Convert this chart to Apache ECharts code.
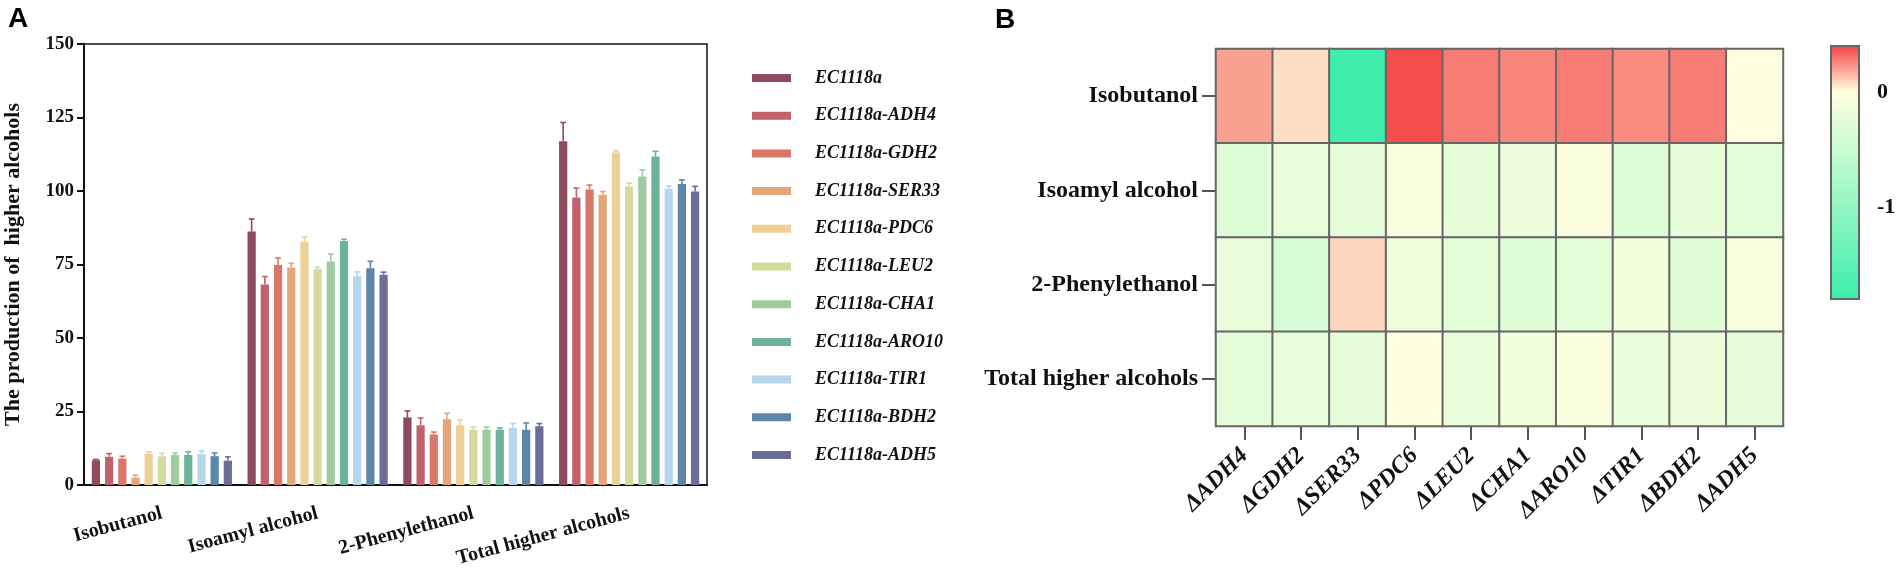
<!DOCTYPE html>
<html>
<head>
<meta charset="utf-8">
<script src="https://cdn.jsdelivr.net/npm/echarts@6/dist/echarts.min.js"></script>
<style>
html,body{margin:0;padding:0;background:#fff;}
#chart{width:1902px;height:572px;}
</style>
</head>
<body>
<div id="chart"></div>
<script>
// ---------- Panel A data ----------
const categories = ['Isobutanol', 'Isoamyl alcohol', '2-Phenylethanol', 'Total higher alcohols'];
const strains = ['EC1118a', 'EC1118a-ADH4', 'EC1118a-GDH2', 'EC1118a-SER33', 'EC1118a-PDC6',
  'EC1118a-LEU2', 'EC1118a-CHA1', 'EC1118a-ARO10', 'EC1118a-TIR1', 'EC1118a-BDH2', 'EC1118a-ADH5'];
const strainColors = ['#8E4B5E', '#C0616D', '#D97868', '#E3A57A', '#EDD095', '#D5DB9D',
  '#9FCB9E', '#6DB39A', '#B5D6EB', '#5E86A8', '#6B6D98'];

const isobutanol       = [8.4, 9.6, 9.0, 2.5, 10.7, 9.7, 10.2, 10.2, 10.5, 9.8, 8.3];
const isobutanolErr    = [0.3, 1.1, 0.8, 0.8, 0.6, 1.1, 0.7, 1.1, 1.1, 1.1, 1.3];
const isoamyl          = [86.2, 68.2, 74.8, 74.0, 82.7, 73.5, 76.0, 83.0, 71.0, 73.7, 71.5];
const isoamylErr       = [4.3, 2.7, 2.4, 1.4, 1.6, 0.6, 2.6, 0.6, 1.5, 2.4, 0.9];
const phenylethanol    = [23.0, 20.3, 17.2, 22.4, 20.3, 18.8, 18.8, 18.8, 19.4, 18.8, 20.0];
const phenylethanolErr = [2.2, 2.5, 0.8, 2.0, 1.8, 0.9, 0.9, 0.6, 1.5, 2.3, 0.9];
const total            = [116.9, 97.8, 100.5, 98.7, 113.1, 101.5, 104.9, 111.7, 100.8, 102.4, 99.8];
const totalErr         = [6.4, 3.2, 1.5, 1.1, 0.6, 1.2, 2.3, 1.8, 0.9, 1.4, 1.8];
const yTicks = [0, 25, 50, 75, 100, 125, 150];

// ---------- Panel B data ----------
const genes = ['ΔADH4', 'ΔGDH2', 'ΔSER33', 'ΔPDC6', 'ΔLEU2', 'ΔCHA1', 'ΔARO10', 'ΔTIR1', 'ΔBDH2', 'ΔADH5'];
const alcohols = ['Isobutanol', 'Isoamyl alcohol', '2-Phenylethanol', 'Total higher alcohols'];
const heatIsobutanol = [0.20, 0.07, -1.78, 0.38, 0.28, 0.26, 0.28, 0.25, 0.28, 0.00];
const heatIsoamyl    = [-0.30, -0.20, -0.22, -0.06, -0.24, -0.16, -0.04, -0.30, -0.22, -0.26];
const heatPhenyl     = [-0.20, -0.38, 0.09, -0.14, -0.27, -0.30, -0.26, -0.11, -0.28, -0.06];
const heatTotal      = [-0.27, -0.20, -0.22, -0.02, -0.21, -0.13, -0.05, -0.21, -0.17, -0.22];
const colorbarLabels = [0, -1];

// ---------- build ----------
const valueRows = [isobutanol, isoamyl, phenylethanol, total];
const errRows = [isobutanolErr, isoamylErr, phenylethanolErr, totalErr];
const heatRows = [heatIsobutanol, heatIsoamyl, heatPhenyl, heatTotal];
const N = strains.length;
const CAT_GAP = 0.1, BAR_GAP = 0.6;
const serif = 'Liberation Serif';

const series = [];
strains.forEach((name, i) => {
  series.push({
    name: name, type: 'bar', xAxisIndex: 0, yAxisIndex: 0,
    barGap: (BAR_GAP * 100) + '%', barCategoryGap: (CAT_GAP * 100) + '%',
    itemStyle: { color: strainColors[i] },
    data: valueRows.map(r => r[i])
  });
});
strains.forEach((name, i) => {
  series.push({
    type: 'custom', xAxisIndex: 0, yAxisIndex: 0, z: 3,
    data: valueRows.map((r, c) => [c, r[i], errRows[c][i]]),
    encode: { x: 0, y: 1 },
    renderItem: function (params, api) {
      const cat = api.value(0), val = api.value(1), err = api.value(2);
      const base = api.coord([cat, val]);
      const top = api.coord([cat, val + err]);
      const band = api.size([1, 0])[0];
      const remain = band * (1 - CAT_GAP);
      const bw = remain / (N + (N - 1) * BAR_GAP);
      const tot = bw * N + bw * BAR_GAP * (N - 1);
      const x = base[0] - tot / 2 + i * bw * (1 + BAR_GAP) + bw / 2;
      const cap = bw * 0.35;
      const st = { stroke: strainColors[i], lineWidth: 1.6 };
      return { type: 'group', children: [
        { type: 'line', shape: { x1: x, y1: base[1], x2: x, y2: top[1] }, style: st },
        { type: 'line', shape: { x1: x - cap, y1: top[1], x2: x + cap, y2: top[1] }, style: st }
      ]};
    }
  });
});

const heatData = [];
heatRows.forEach((row, r) => row.forEach((v, c) => heatData.push([c, r, v])));
const heatIndex = series.length;
series.push({
  type: 'heatmap', xAxisIndex: 1, yAxisIndex: 1, z: 5,
  data: heatData,
  itemStyle: { borderColor: '#666', borderWidth: 2 },
  emphasis: { disabled: true }
});

const chart = echarts.init(document.getElementById('chart'), null, { renderer: 'canvas' });
chart.setOption({
  animation: false,
  backgroundColor: '#fff',
  grid: [
    { left: 84, top: 44, width: 623, height: 441, show: true, borderColor: '#111', borderWidth: 1.5, backgroundColor: 'transparent' },
    { left: 1216, top: 49, width: 567, height: 377 },
    { left: 1831, top: 46, width: 28, height: 253, show: true, borderColor: '#666', borderWidth: 2, backgroundColor: 'transparent', z: 10 }
  ],
  xAxis: [
    { gridIndex: 0, type: 'category', data: categories,
      axisLine: { lineStyle: { color: '#111', width: 2 } },
      axisTick: { alignWithLabel: true, length: 9, lineStyle: { color: '#111', width: 2 } },
      axisLabel: { rotate: 15, margin: 28, color: '#111', fontFamily: serif, fontWeight: 'bold', fontSize: 20, interval: 0 } },
    { gridIndex: 1, type: 'category', data: genes,
      axisLine: { show: true, lineStyle: { color: '#666', width: 2 } },
      axisTick: { show: true, alignWithLabel: true, length: 14, lineStyle: { color: '#555', width: 2 } },
      axisLabel: { rotate: 45, margin: 26, color: '#111', fontFamily: serif, fontWeight: 'bold', fontStyle: 'italic', fontSize: 24, interval: 0 } },
    { gridIndex: 2, type: 'value', show: false, min: 0, max: 1 }
  ],
  yAxis: [
    { gridIndex: 0, type: 'value', min: yTicks[0], max: yTicks[yTicks.length - 1], interval: yTicks[1] - yTicks[0],
      name: 'The production of  higher alcohols', nameLocation: 'middle', nameGap: 60,
      nameTextStyle: { color: '#111', fontFamily: serif, fontWeight: 'bold', fontSize: 22 },
      axisLine: { show: true, lineStyle: { color: '#111', width: 2 } },
      axisTick: { show: true, length: 7, lineStyle: { color: '#111', width: 2 } },
      splitLine: { show: false },
      axisLabel: { margin: 10, color: '#111', fontFamily: serif, fontWeight: 'bold', fontSize: 19 } },
    { gridIndex: 1, type: 'category', data: alcohols, inverse: true,
      axisLine: { show: true, lineStyle: { color: '#666', width: 2 } },
      axisTick: { show: true, alignWithLabel: true, length: 14, lineStyle: { color: '#555', width: 2 } },
      axisLabel: { margin: 18, color: '#111', fontFamily: serif, fontWeight: 'bold', fontSize: 24 } },
    { gridIndex: 2, type: 'value', min: -1.8, max: 0.4, position: 'left',
      axisLine: { show: false }, splitLine: { show: false },
      axisTick: { show: true, inside: true, length: 3, customValues: colorbarLabels, lineStyle: { color: '#555', width: 1.5 } },
      axisLabel: { show: false } },
    { gridIndex: 2, type: 'value', min: -1.8, max: 0.4, position: 'right',
      axisLine: { show: false }, splitLine: { show: false },
      axisTick: { show: true, inside: true, length: 3, customValues: colorbarLabels, lineStyle: { color: '#555', width: 1.5 } },
      axisLabel: { show: true, margin: 18, customValues: colorbarLabels, color: '#111', fontFamily: serif, fontWeight: 'bold', fontSize: 22,
        formatter: v => (Math.abs(v) < 1e-6 ? '0' : String(Math.round(v))) } }
  ],
  legend: {
    orient: 'vertical', left: 747, top: 64,
    data: strains, itemWidth: 39, itemHeight: 8, itemGap: 19.7, icon: 'rect',
    textStyle: { color: '#111', fontFamily: serif, fontWeight: 'bold', fontStyle: 'italic', fontSize: 18, padding: [0, 0, 0, 19] },
    selectedMode: false
  },
  visualMap: {
    type: 'continuous', seriesIndex: heatIndex, min: -1.8, max: 0.4,
    left: 1831, top: 46, itemWidth: 28, itemHeight: 253, padding: 0,
    calculable: false, hoverLink: false, text: null, show: true,
    inRange: { color: ['#3DEEAA', '#53F0B0', '#68F2B6', '#7EF4BC', '#93F6C2', '#A9F8C8',
      '#BEFACE', '#D4FCD4', '#E9FDDA', '#FFFFE0', '#FAA292', '#F44444'] }
  },
  graphic: [
    { type: 'text', left: 8, top: 5, style: { text: 'A', fontFamily: 'Liberation Sans', fontWeight: 'bold', fontSize: 28, fill: '#000' } },
    { type: 'text', left: 995, top: 6, style: { text: 'B', fontFamily: 'Liberation Sans', fontWeight: 'bold', fontSize: 28, fill: '#000' } }
  ],
  series: series
});
</script>
</body>
</html>
